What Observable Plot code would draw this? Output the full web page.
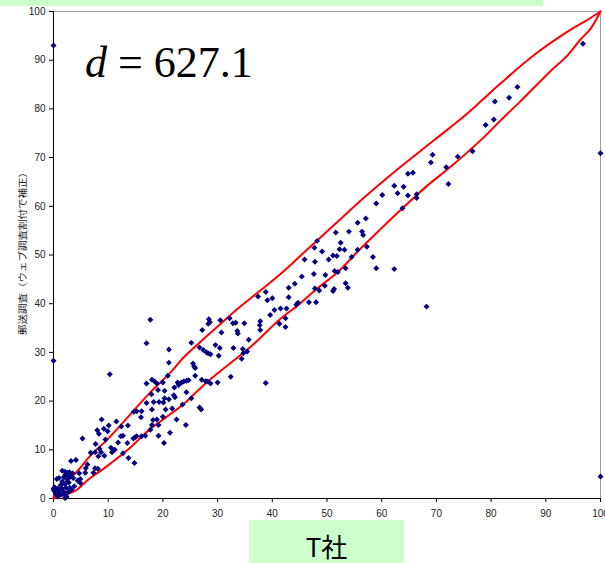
<!DOCTYPE html>
<html><head><meta charset="utf-8">
<script src="https://cdn.jsdelivr.net/npm/d3@7"></script>
<script src="https://cdn.jsdelivr.net/npm/@observablehq/plot@0.6"></script>
<style>
body{margin:0;background:#fff}
#wrap{position:relative;width:605px;height:563px;overflow:hidden;background:#fff}
#chart{position:absolute;left:0;top:0}
#topbar{position:absolute;left:0;top:0;width:543px;height:6px;background:#ccffcc}
#xbox{position:absolute;left:249px;top:520px;width:155px;height:43px;background:#ccffcc}
#xtitle{position:absolute;left:0;top:12px;width:155px;height:28px;line-height:28px;text-align:center;font-family:"Noto Sans CJK JP",sans-serif;font-size:26px;color:#000}
#dlabel{position:absolute;left:85px;top:38px;font-family:"Liberation Serif","Tinos","DejaVu Serif",serif;font-size:44px;line-height:50px;color:#000;white-space:pre}
#dlabel i{font-style:italic}
</style></head><body>
<div id="wrap">
<div id="chart"></div>
<div id="topbar"></div>
<div id="dlabel"></div>
<div id="xbox"><div id="xtitle"></div></div>
</div>
<script>
// T社 (x) vs 郵送調査 (y) values
const tX = [96.8,84.8,83.3,80.7,80.5,79.0,76.6,73.9,69.3,69.0,71.8,72.2,64.8,65.7,64.0,64.8,66.4,66.4,100,
62.3,62.9,60.1,59.0,63.8,57.1,55.6,56.4,56.6,54.0,51.6,48.2,52.5,47.7,52.3,53.2,55.6,49.1,57.3,51.1,51.8,50.3,54.5,58.4,45.9,47.8,59.0,62.3,53.4,51.4,52.0,49.7,47.6,45.4,53.4,53.8,44.1,43.0,47.8,48.6,49.6,51.3,51.1,43.0,44.7,44.4,46.7,48.0,41.5,42.6,42.4,68.2,
38.8,37.4,40.0,39.1,40.4,39.6,41.3,42.4,37.8,37.7,37.8,35.7,32.2,32.8,33.3,34.9,30.5,30.7,33.6,33.7,28.4,28.6,28.3,27.2,25.2,29.6,30.4,26.7,27.4,28.0,28.3,28.7,30.2,32.9,34.6,35.4,34.7,34.4,21.1,21.1,25.5,25.7,25.9,25.9,27.1,27.8,28.2,28.7,30.0,32.4,38.8,20.9,20.0,22.7,23.4,23.8,24.3,24.7,22.9,22.1,18.0,18.5,18.9,17.7,19.1,20.3,22.0,22.2,24.3,21.1,20.3,20.1,19.3,18.3,17.9,20.5,21.7,23.6,25.2,26.7,27.0,18.0,20.0,18.9,18.0,17.7,22.5,24.2,21.3,19.2,
17.0,10.3,17.0,17.0,15.2,
8.8,11.5,8.0,8.3,10.1,9.2,9.9,12.4,13.6,12.7,12.3,5.3,9.5,7.7,11.8,13.5,14.6,14.9,15.2,16.1,16.8,19.2,18.2,16.0,14.7,16.1,20.2,6.8,8.4,8.7,9.3,8.2,10.5,11.2,10.7,12.7,13.7,14.8,7.6,3.2,4.1,6.2,5.9,5.8,7.6,8.1,7.3,4.7,4.9,4.4,3.6,4.9,3.8,3.0,
1.6,2.1,2.5,2.9,3.5,2.2,2.7,3.1,1.9,1.0,0.6,2.5,1.6,2.8,2.1,1.3,0.2,0.7,1.6,2.3,3.3,0.1,1.0,1.9,2.7,0.4,1.3,2.2,2.1,0.7,0,2.4,
0,0,100];
const mailY = [93.4,84.5,82.3,81.5,77.8,76.7,71.3,70.2,70.6,69.0,68.0,64.6,66.7,66.9,64.0,62.2,62.5,61.7,70.9,
64.2,62.7,62.3,60.6,59.6,57.5,56.6,54.8,54.1,54.8,54.6,52.9,52.5,51.5,51.2,51.1,51.1,50.7,51.7,49.9,49.8,49.1,49.6,49.6,49.1,48.6,47.3,47.1,47.3,46.7,46.5,45.9,46.1,45.6,44.2,43.3,44.1,43.3,43.1,42.7,43.7,43.0,42.6,41.3,40.2,39.8,40.3,40.3,39.0,39.0,37.0,39.4,
42.4,41.5,41.1,40.7,38.7,37.7,35.9,35.2,36.4,35.6,34.6,32.6,37.0,36.0,36.1,36.0,36.6,34.1,34.4,33.9,36.8,36.2,35.9,34.6,32.0,31.5,30.9,31.0,30.5,30.0,29.8,29.6,29.3,30.9,30.7,30.2,29.8,28.7,30.6,27.9,27.7,27.1,26.8,25.2,24.4,24.1,24.0,23.6,23.8,25.0,23.7,25.2,23.8,23.8,23.8,24.0,24.2,24.3,23.3,22.8,24.4,24.0,23.6,36.7,22.3,22.1,21.2,20.8,21.8,20.4,20.6,19.7,19.8,19.8,21.4,18.3,18.5,19.3,20.6,18.7,18.3,18.3,16.8,16.2,15.1,14.1,16.2,15.1,13.5,12.9,
31.9,25.5,23.6,19.6,17.9,
16.2,15.8,14.0,13.3,15.0,14.3,13.8,14.8,15.0,12.9,12.8,12.3,12.1,11.2,11.5,11.4,12.3,12.6,12.8,12.8,12.9,15.1,16.1,16.7,17.8,17.9,11.4,9.4,10.2,9.5,8.8,8.7,10.4,10.0,9.5,9.3,8.3,7.3,9.5,7.7,7.9,7.0,6.2,5.3,6.2,6.1,5.3,5.2,4.0,3.7,4.2,3.2,2.5,2.2,
5.7,5.5,5.3,5.4,5.2,4.9,4.7,4.5,4.4,4.2,4.0,3.9,3.5,3.3,3.0,2.7,2.3,2.0,2.0,2.2,1.8,1.6,1.5,1.3,1.4,1.0,0.8,0.6,0.1,0.4,2.0,0.3,
93.0,28.3,4.5];

// upper and lower red band curves
const upperX = [0,0.4,2.5,4.6,6.5,10.1,14.7,17.7,21.4,23.8,26.9,29.9,33.5,37.8,41.5,45.2,48.8,52.2,57.0,62.8,69.5,75.6,81.7,87.8,93.9,97.5,100];
const upperY = [0,1.6,3.6,5.9,8.5,12.4,18.1,21.8,25.9,29.0,32.2,35.2,38.8,42.7,46.1,49.9,53.6,57.1,62.0,67.5,73.5,79.0,85.2,91.0,95.8,98.2,100];
const lowerX = [0,2.0,4.0,6.5,9.5,13.8,17.7,20.5,23.8,26.8,29.9,33.0,36.0,41.5,44.6,48.2,52.0,55.5,59.5,63.8,68.5,72.6,78.7,81.7,85.4,90.9,93.9,96.3,98.2,100];
const lowerY = [0,0.7,1.6,4.0,6.4,10.2,14.3,16.6,19.4,22.6,25.6,28.4,31.1,36.9,39.6,43.1,46.5,50.6,55.0,59.6,64.4,68.1,74.2,77.6,81.6,87.8,90.9,94.2,96.5,100];

const axisTicks = [0,10,20,30,40,50,60,70,80,90,100];
const xTitle = "T社";
const yTitle = "郵送調査（ウェブ調査割付で補正）";
const dValue = "627.1";

const points = tX.map((x, i) => ({x, y: mailY[i]}));
const upper = upperX.map((x, i) => ({x, y: upperY[i]}));
const lower = lowerX.map((x, i) => ({x, y: lowerY[i]}));

const chart = Plot.plot({
  width: 605, height: 563,
  marginLeft: 53, marginRight: 5, marginTop: 11, marginBottom: 65,
  style: {background: "transparent", fontFamily: "Liberation Sans, Arial, sans-serif", fontSize: "10px", color: "#000", overflow: "visible"},
  x: {domain: [0, 100], label: null},
  y: {domain: [0, 100], label: null},
  marks: [
    Plot.frame({stroke: "#a0a0a0"}),
    Plot.ruleX([0], {stroke: "#000"}),
    Plot.ruleY([0], {stroke: "#000"}),
    Plot.axisX({ticks: axisTicks, tickSize: 4, tickPadding: 7, label: null, fill: "#222"}),
    Plot.axisY({ticks: axisTicks, tickSize: 4, tickPadding: 4, label: null, fill: "#222"}),
    Plot.line(upper, {x: "x", y: "y", stroke: "#ff0000", strokeWidth: 2, curve: "catmull-rom"}),
    Plot.line(lower, {x: "x", y: "y", stroke: "#ff0000", strokeWidth: 2, curve: "catmull-rom"}),
    Plot.dot(points, {x: "x", y: "y", symbol: "diamond2", r: 2.7, fill: "#000080", stroke: "none", clip: false})
  ]
});
document.getElementById("chart").appendChild(chart);

const svg = d3.select(chart);
svg.append("text")
  .attr("transform", "translate(22,251) rotate(-90)")
  .attr("text-anchor", "middle")
  .attr("dominant-baseline", "central")
  .style("font-family", "'Noto Sans CJK JP', sans-serif")
  .style("font-size", "9px")
  .attr("fill", "#222")
  .attr("textLength", 168)
  .attr("lengthAdjust", "spacingAndGlyphs")
  .text(yTitle);

const dl = document.getElementById("dlabel");
const it = document.createElement("i");
it.textContent = "d";
dl.appendChild(it);
dl.appendChild(document.createTextNode(" = " + dValue));

document.getElementById("xtitle").textContent = xTitle;
</script>
</body></html>
